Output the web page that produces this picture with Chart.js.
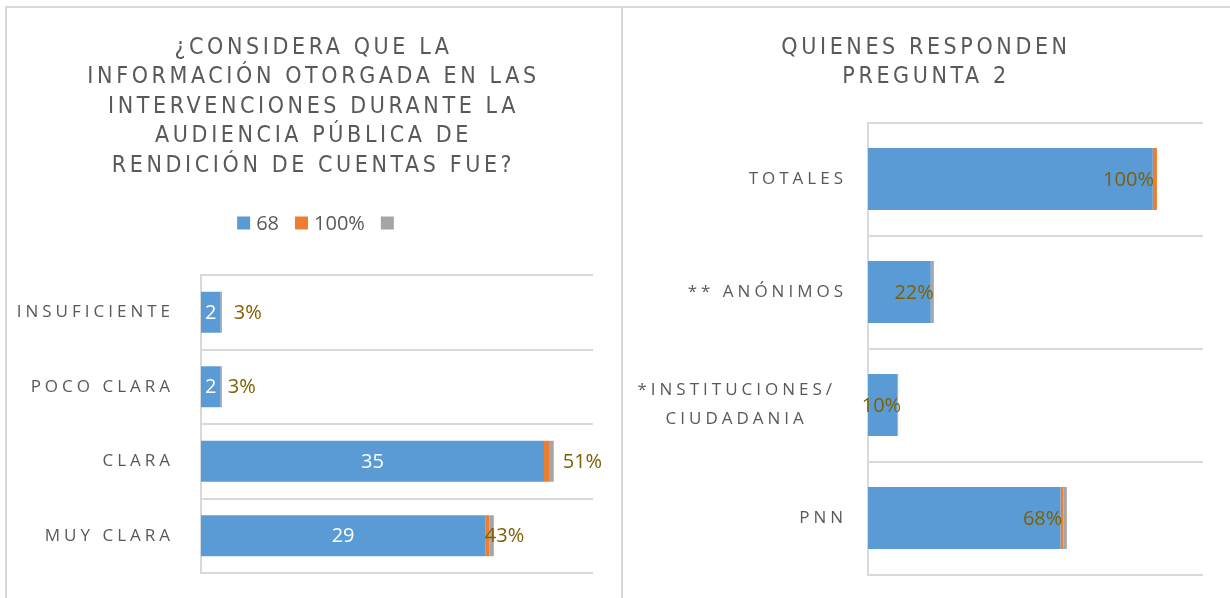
<!DOCTYPE html>
<html><head><meta charset="utf-8">
<script src="https://cdn.jsdelivr.net/npm/chart.js@4.4.1/dist/chart.umd.min.js"></script>
<style>
html,body{margin:0;padding:0;background:#fff;width:1230px;height:598px;overflow:hidden;}
#c1{position:absolute;left:0;top:0;}
#c2{position:absolute;left:622px;top:0;}
.frame{position:absolute;border-top:2px solid #D9D9D9;border-left:2px solid #D9D9D9;pointer-events:none;}
</style></head><body>
<canvas id="c1" width="622" height="598"></canvas>
<canvas id="c2" width="608" height="598"></canvas>
<div class="frame" style="left:5px;top:6px;width:616px;height:600px"></div>
<div class="frame" style="left:621px;top:6px;width:615px;height:600px"></div>
<script>
// ---------- data ----------
const seriesNames = ['68', '100%', ''];

const leftTitle = ['¿CONSIDERA QUE LA', 'INFORMACIÓN OTORGADA EN LAS', 'INTERVENCIONES DURANTE LA', 'AUDIENCIA PÚBLICA DE', 'RENDICIÓN DE CUENTAS FUE?'];
const leftCategories = ['INSUFICIENTE', 'POCO CLARA', 'CLARA', 'MUY CLARA'];
const leftCounts = [2, 2, 35, 29];
const leftShares = [0.03, 0.03, 0.51, 0.43];
const leftOther = [0.1, 0.1, 0.48, 0.45];

const rightTitle = ['QUIENES RESPONDEN', 'PREGUNTA 2'];
const rightCategories = ['TOTALES', '** ANÓNIMOS', ['*INSTITUCIONES/', 'CIUDADANIA'], 'PNN'];
const rightCounts = [68, 15, 7, 46];
const rightShares = [1.00, 0.22, 0.10, 0.68];
const rightOther = [0, 0.5, 0.1, 0.8];

// ---------- styles ----------
const BLUE = '#5B9BD5', ORANGE = '#ED7D31', GRAY = '#A5A5A5';
const TEXT = '#595959', GOLD = '#7F6000', GRID = '#D9D9D9';
const TITLE_FAMILY = '"Liberation Sans Narrow", "Arial Narrow", "DejaVu Sans Condensed", "Liberation Sans", sans-serif';
const BODY_FAMILY = '"Open Sans", "Noto Sans", sans-serif';

const titleSpacing = {
  id: 'titleSpacing',
  beforeDraw(chart, args, o) {
    const tb = chart.titleBlock;
    if (tb && !tb._spaced) {
      const orig = tb.draw;
      tb.draw = function () {
        const c = this.ctx; c.save(); c.letterSpacing = o.spacing + 'px';
        orig.apply(this, arguments); c.restore();
      };
      tb._spaced = true;
    }
  }
};

const barLabels = {
  id: 'barLabels',
  afterDatasetsDraw(chart, args, o) {
    const ctx = chart.ctx;
    ctx.save();
    ctx.letterSpacing = '0px';
    ctx.font = o.size + 'px ' + BODY_FAMILY;
    ctx.textBaseline = 'middle';
    const ds = chart.data.datasets;
    const endMeta = chart.getDatasetMeta(ds.length - 1);
    if (o.inner) {
      const m = chart.getDatasetMeta(0);
      ctx.fillStyle = '#FFFFFF'; ctx.textAlign = 'center';
      m.data.forEach((bar, i) => {
        ctx.fillText(String(ds[0].data[i]), (bar.x + bar.base) / 2, bar.y + 1);
      });
    }
    ctx.fillStyle = GOLD; ctx.textAlign = o.align;
    endMeta.data.forEach((bar, i) => {
      const txt = Math.round(ds[1].data[i] * 100) + '%';
      ctx.fillText(txt, bar.x + o.offsets[i], bar.y + 1);
    });
    ctx.restore();
  }
};

const catLabels = {
  id: 'catLabels',
  afterDraw(chart, args, o) {
    const ctx = chart.ctx;
    const ys = chart.scales.y;
    ctx.save();
    ctx.font = o.size + 'px ' + BODY_FAMILY;
    ctx.letterSpacing = o.spacing + 'px';
    ctx.fillStyle = TEXT;
    ctx.textBaseline = 'middle';
    const right = chart.chartArea.left - o.gap;
    chart.data.labels.forEach((lab, i) => {
      const y = ys.getPixelForTick(i);
      if (Array.isArray(lab)) {
        const w = Math.max(...lab.map(s => ctx.measureText(s).width));
        const cx = right - o.wrapInset - w / 2;
        ctx.textAlign = 'center';
        lab.forEach((s, k) => {
          ctx.fillText(s, cx, y + (k - (lab.length - 1) / 2) * o.lineHeight);
        });
      } else {
        ctx.textAlign = 'right';
        ctx.fillText(lab, right, y);
      }
    });
    ctx.restore();
  }
};

const boxLegend = {
  id: 'boxLegend',
  afterDraw(chart, args, o) {
    if (!o.show) return;
    const ctx = chart.ctx;
    ctx.save();
    ctx.letterSpacing = '0px';
    ctx.font = o.size + 'px ' + BODY_FAMILY;
    ctx.textBaseline = 'middle';
    ctx.textAlign = 'left';
    const items = chart.data.datasets.map(d => ({ text: d.label, color: d.backgroundColor, w: ctx.measureText(d.label).width }));
    let total = 0;
    items.forEach((it, i) => {
      total += o.box + (it.text ? o.gap + it.w : 0) + (i < items.length - 1 ? o.between : 0);
    });
    let x = o.cx - total / 2;
    items.forEach(it => {
      ctx.fillStyle = it.color;
      ctx.fillRect(x, o.cy - o.box / 2, o.box, o.box);
      x += o.box;
      if (it.text) {
        ctx.fillStyle = TEXT;
        ctx.fillText(it.text, x + o.gap, o.cy + 1);
        x += o.gap + it.w;
      }
      x += o.between;
    });
    ctx.restore();
  }
};

function makeChart(id, cfg) {
  return new Chart(document.getElementById(id), {
    type: 'bar',
    data: {
      labels: cfg.labels,
      datasets: [
        { label: seriesNames[0], data: cfg.counts, backgroundColor: BLUE },
        { label: seriesNames[1], data: cfg.shares, backgroundColor: ORANGE },
        { label: seriesNames[2], data: cfg.other, backgroundColor: GRAY }
      ]
    },
    options: {
      indexAxis: 'y',
      responsive: false,
      animation: false,
      devicePixelRatio: 1,
      categoryPercentage: 0.55,
      barPercentage: 1,
      layout: { padding: cfg.padding },
      scales: {
        x: {
          stacked: true, min: 0, max: cfg.xMax,
          position: 'top',
          display: cfg.xAxisH > 0,
          grid: { display: false },
          border: { display: false },
          ticks: { display: false },
          afterFit: s => { s.height = cfg.xAxisH; }
        },
        y: {
          stacked: true,
          grid: { offset: true, color: GRID, lineWidth: 2, drawTicks: false },
          border: { display: true, color: GRID, width: 2 },
          ticks: { display: false },
          afterFit: s => { s.width = cfg.yWidth; }
        },
        yR: {
          type: 'category',
          position: 'right',
          grid: { display: false },
          border: { display: false },
          ticks: { display: false },
          afterFit: s => { s.width = cfg.rightGap; }
        }
      },
      plugins: {
        tooltip: { enabled: false },
        legend: { display: false },
        title: {
          display: true, text: cfg.title, color: TEXT,
          font: { family: TITLE_FAMILY, size: 23, weight: 'normal', lineHeight: 29.5 / 23 },
          padding: cfg.titlePad
        },
        titleSpacing: { spacing: 3.6 },
        boxLegend: cfg.legend,
        barLabels: cfg.barLabels,
        catLabels: cfg.catLabels
      }
    },
    plugins: [titleSpacing, barLabels, catLabels, boxLegend]
  });
}

makeChart('c1', {
  labels: leftCategories, counts: leftCounts, shares: leftShares, other: leftOther,
  title: leftTitle, xMax: 40, yWidth: 196, rightGap: 29, xAxisH: 94.5,
  legend: { show: true, cx: 315.5, cy: 223, box: 13, gap: 6, between: 16, size: 20 },
  padding: { left: 5, right: 0, top: 0, bottom: 25 },
  titlePad: { top: 33, bottom: 0 },
  barLabels: { inner: true, size: 20, align: 'left', offsets: [12, 6, 9, -9] },
  catLabels: { size: 17, spacing: 4, gap: 27, lineHeight: 29, wrapInset: 0 }
});

makeChart('c2', {
  labels: rightCategories, counts: rightCounts, shares: rightShares, other: rightOther,
  title: rightTitle, xMax: 80, yWidth: 246, rightGap: 27, xAxisH: 0,
  legend: { show: false },
  padding: { left: 0, right: 0, top: 0, bottom: 23.5 },
  titlePad: { top: 33, bottom: 30.5 },
  barLabels: { inner: false, size: 20, align: 'right', offsets: [-3, 0, 3, -4.5] },
  catLabels: { size: 17, spacing: 4, gap: 21, lineHeight: 29, wrapInset: 11 }
});
</script>
</body></html>
